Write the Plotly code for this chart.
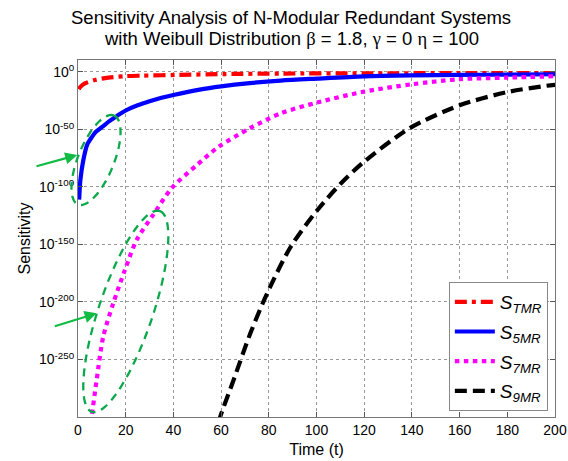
import numpy as np
import plotly.graph_objects as go

# ---- data (sensitivity values, stored as log10 exponents) ----
t_tmr = [0.3, 1.0, 2.9, 7.1, 12.7, 20, 27, 41, 62, 86, 120, 160, 200]
exp_tmr = [-15, -13, -10, -7, -4.9, -3.6, -3.2, -2.6, -1.8, -1.4, -1.2, -1.0, -0.9]

t_5mr = [0.5, 1.0, 2.2, 3.9, 5.7, 7.5, 10, 13, 16.5, 20, 25, 30, 35, 40, 51, 60, 72, 85, 100, 120, 140, 160, 180, 200]
exp_5mr = [-111, -94, -77, -63, -57, -52, -48, -43, -38, -33.5, -29, -25.5, -22.5, -20, -15.3, -12.5, -9.7, -7.5, -5.8, -3.8, -3.0, -2.6, -2.3, -2.0]

t_7mr = [5.3, 5.7, 7.8, 10.6, 14.8, 19.7, 24.6, 31.6, 39.3, 49.8, 59, 72, 85, 100, 120, 140, 160, 180, 200]
exp_7mr = [-305, -300, -268, -230, -201, -172, -146, -124, -101, -81, -65, -49, -36, -26.7, -17.1, -10.7, -6.3, -4.9, -3.7]

t_9mr = [59, 59.6, 65.2, 72.3, 79.3, 89.2, 100.4, 110.2, 120, 139, 160, 180, 198, 200]
exp_9mr = [-305, -300, -268, -227, -192.5, -152, -120, -97, -78, -49, -29, -17.5, -11.6, -11.3]

y_tick_exps = [0, -50, -100, -150, -200, -250]
y_tick_labels = ["10<sup>0</sup>", "10<sup>-50</sup>", "10<sup>-100</sup>",
                 "10<sup>-150</sup>", "10<sup>-200</sup>", "10<sup>-250</sup>"]
x_ticks = [0, 20, 40, 60, 80, 100, 120, 140, 160, 180, 200]

title_line1 = "Sensitivity Analysis of N-Modular Redundant Systems"
title_line2 = "with Weibull Distribution {b} = 1.8, {g} = 0 {e} = 100"

FONT = "Arial, Liberation Sans, sans-serif"
SERIF = "Times New Roman, Liberation Serif, serif"

series = [
    ("<i>S</i><sub><i>TMR</i></sub>", t_tmr, exp_tmr, "#ff0000", "12px,5px,4px,5px"),
    ("<i>S</i><sub><i>5MR</i></sub>", t_5mr, exp_5mr, "#0000ff", "solid"),
    ("<i>S</i><sub><i>7MR</i></sub>", t_7mr, exp_7mr, "#ff00ff", "4.5px,4.5px"),
    ("<i>S</i><sub><i>9MR</i></sub>", t_9mr, exp_9mr, "#000000", "12px,6px"),
]

fig = go.Figure()
for i, (name, t, e, col, dash) in enumerate(series):
    fig.add_trace(go.Scatter(
        x=t, y=10.0 ** np.array(e, dtype=float), name=name, mode="lines",
        legendgroup=f"g{i}",
        line=dict(color=col, width=4.2, dash=dash, shape="spline", smoothing=0.8),
    ))

# ---- layout geometry ----
L, R, T, B = 78, 13, 60, 44
W, H = 568, 461
PW, PH = W - L - R, H - T - B


def px2paper(px, py):
    return (px - L) / PW, (T + PH - py) / PH


def ellipse_path(cx, cy, a, b, ang_deg, n=80):
    th = np.linspace(0, 2 * np.pi, n)
    ang = np.deg2rad(ang_deg)
    ux, uy = np.cos(ang), -np.sin(ang)
    vx, vy = np.sin(ang), np.cos(ang)
    xs = cx + a * np.cos(th) * ux + b * np.sin(th) * vx
    ys = cy + a * np.cos(th) * uy + b * np.sin(th) * vy
    pts = [px2paper(x, y) for x, y in zip(xs, ys)]
    return "M " + " L ".join(f"{x:.4f},{y:.4f}" for x, y in pts) + " Z"


GREEN = "#0aa84a"
shapes = [
    dict(type="path", xref="paper", yref="paper", path=ellipse_path(96, 160, 48, 18, 68),
         line=dict(color=GREEN, width=2.3, dash="8px,6px")),
    dict(type="path", xref="paper", yref="paper", path=ellipse_path(125.8, 311.4, 106, 27, 71.3),
         line=dict(color=GREEN, width=2.3, dash="8px,6px")),
]

annotations = []
for (hx, hy, tx, ty) in [(77.3, 155, 35, 166.7), (96.7, 313.3, 53.3, 326.7)]:
    x, y = px2paper(hx, hy)
    annotations.append(dict(x=x, y=y, xref="paper", yref="paper", text="",
                            showarrow=True, ax=tx - hx, ay=ty - hy,
                            arrowhead=2, arrowsize=1.1, arrowwidth=2.2,
                            arrowcolor="#11bb44"))

# title as two centered text lines
greek = lambda c: f"<span style='font-family:{SERIF}'>{c}</span>"
for text, cy in [(title_line1, 18), (title_line2.format(b=greek("β"), g=greek("γ"), e=greek("η")), 38)]:
    x, y = px2paper(291, cy)
    annotations.append(dict(x=x, y=y, xref="paper", yref="paper", text=text,
                            showarrow=False, xanchor="center", yanchor="middle",
                            font=dict(family=FONT, size=18.5, color="#000000")))

fig.update_layout(
    width=W, height=H,
    margin=dict(l=L, r=R, t=T, b=B, autoexpand=False),
    paper_bgcolor="white", plot_bgcolor="white",
    font=dict(family=FONT, color="#000000", size=14),
    xaxis=dict(
        range=[0, 200], tickvals=x_ticks, ticks="inside", ticklen=5, automargin=False,
        tickcolor="#555", showline=True, linecolor="#777", linewidth=1, mirror="ticks",
        showgrid=True, gridcolor="#999", griddash="dot", gridwidth=1, zeroline=False,
        title=dict(text="Time (t)", font=dict(size=16), standoff=7),
        tickfont=dict(size=14),
    ),
    yaxis=dict(
        type="log", range=[-300, 10.4], automargin=False,
        tickvals=[10.0 ** e for e in y_tick_exps], ticktext=y_tick_labels,
        ticks="inside", ticklen=5, tickcolor="#555",
        showline=True, linecolor="#777", linewidth=1, mirror="ticks",
        showgrid=True, gridcolor="#999", griddash="dot", gridwidth=1, zeroline=False,
        title=dict(text="Sensitivity", font=dict(size=16), standoff=4),
        tickfont=dict(size=14),
    ),
    legend=dict(
        x=0.985, xanchor="right", y=0.017, yanchor="bottom",
        bgcolor="white", bordercolor="#888", borderwidth=1,
        font=dict(family=FONT, size=19, color="#000000"),
        tracegroupgap=2, itemwidth=40,
    ),
    shapes=shapes,
    annotations=annotations,
)

fig.write_html("out.html", config={"displayModeBar": False},
               post_script="document.body.style.margin='0';document.body.style.padding='0';")
